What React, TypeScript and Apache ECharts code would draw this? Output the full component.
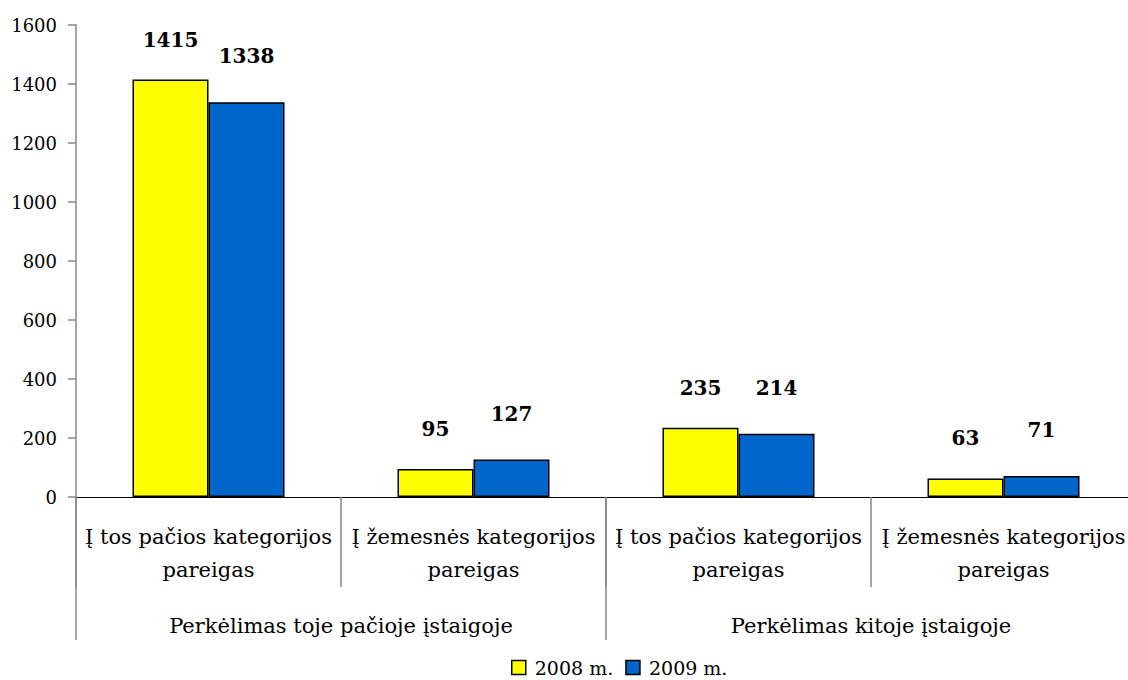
import React, { useEffect, useRef } from "react";
import * as echarts from "echarts";

const categories = [
  "Į tos pačios kategorijos\npareigas",
  "Į žemesnės kategorijos\npareigas",
  "Į tos pačios kategorijos\npareigas",
  "Į žemesnės kategorijos\npareigas",
];
const groups = ["Perkėlimas toje pačioje įstaigoje", "Perkėlimas kitoje įstaigoje"];
const seriesNames = ["2008 m.", "2009 m."];
const values2008 = [1415, 95, 235, 63];
const values2009 = [1338, 127, 214, 71];

const FONT = "DejaVu Serif";
const GRAY = "#878787";

export default function App() {
  const ref = useRef<HTMLDivElement>(null);
  useEffect(() => {
    if (!ref.current) return;
    const chart = echarts.init(ref.current, null, { renderer: "svg" });
    const labelStyle = (distance: number) => ({
      show: true,
      position: "top" as const,
      distance,
      fontFamily: FONT,
      fontSize: 20,
      fontWeight: "bold" as const,
      color: "#000",
    });
    chart.setOption({
      animation: false,
      backgroundColor: "#fff",
      textStyle: { fontFamily: FONT },
      grid: { left: 76, right: 4, top: 25, bottom: 183, containLabel: false },
      legend: {
        data: seriesNames,
        bottom: -2,
        left: 506,
        icon: "rect",
        itemWidth: 14,
        itemHeight: 14,
        itemGap: 12,
        textStyle: { fontFamily: FONT, fontSize: 19, color: "#000", padding: [0, 0, 0, 4] },
        itemStyle: { borderColor: "#000", borderWidth: 1.5 },
      },
      xAxis: [
        {
          type: "category",
          data: categories,
          position: "bottom",
          axisLine: { show: true, lineStyle: { color: "#000", width: 1 } },
          axisTick: { show: true, length: 90, interval: 0, lineStyle: { color: GRAY, width: 1.5 } },
          axisLabel: {
            interval: 0,
            margin: 23,
            fontFamily: FONT,
            fontSize: 21,
            lineHeight: 33,
            color: "#000",
          },
          splitLine: { show: false },
        },
        {
          type: "category",
          data: groups,
          position: "bottom",
          axisLine: { show: false },
          axisTick: { show: true, length: 143, interval: 0, lineStyle: { color: GRAY, width: 1.5 } },
          axisLabel: {
            interval: 0,
            margin: 118,
            fontFamily: FONT,
            fontSize: 21,
            color: "#000",
          },
          splitLine: { show: false },
        },
      ],
      yAxis: {
        type: "value",
        min: 0,
        max: 1600,
        interval: 200,
        axisLine: { show: true, lineStyle: { color: GRAY, width: 1.5 } },
        axisTick: { show: true, length: 8, lineStyle: { color: GRAY, width: 1.5 } },
        axisLabel: {
          margin: 19,
          fontFamily: FONT,
          fontSize: 18,
          color: "#000",
          formatter: (v: number) => String(v),
        },
        splitLine: { show: false },
      },
      series: [
        {
          name: seriesNames[0],
          type: "bar",
          xAxisIndex: 0,
          data: values2008,
          barWidth: 76,
          barGap: "0%",
          itemStyle: { color: "#FFFF00", borderColor: "#000", borderWidth: 1.5 },
          label: labelStyle(30),
        },
        {
          name: seriesNames[1],
          type: "bar",
          xAxisIndex: 0,
          data: values2009,
          barWidth: 76,
          barGap: "0%",
          itemStyle: { color: "#0066CC", borderColor: "#000", borderWidth: 1.5 },
          label: labelStyle(36),
        },
      ],
    });
    return () => chart.dispose();
  }, []);
  return (
    <div
      style={{
        position: "absolute",
        left: 0,
        top: 0,
        width: 1128,
        height: 680,
        overflow: "hidden",
      }}
    >
      <div ref={ref} style={{ width: 1140, height: 680 }} />
    </div>
  );
}
